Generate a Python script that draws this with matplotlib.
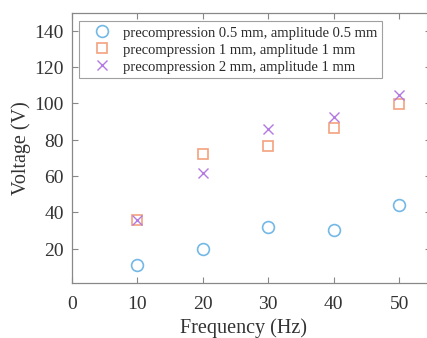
import matplotlib
matplotlib.use('Agg')
import matplotlib.pyplot as plt

plt.rcParams['font.family'] = ['Liberation Serif', 'DejaVu Serif']

freq = [10, 20, 30, 40, 50]
v_pre05_amp05 = [10.8, 20.0, 31.7, 30.3, 44.2]
v_pre1_amp1 = [35.6, 72.2, 76.8, 86.7, 99.7]
v_pre2_amp1 = [35.6, 61.8, 86.1, 92.7, 104.7]

labels = ['precompression 0.5 mm, amplitude 0.5 mm',
          'precompression 1 mm, amplitude 1 mm',
          'precompression 2 mm, amplitude 1 mm']

fig = plt.figure(figsize=(4.275, 3.385), dpi=100, facecolor='white')
ax = fig.add_axes([72 / 427, 55 / 338, 358 / 427, 270 / 338])

ax.plot(freq, v_pre05_amp05, 'o', ms=8.5, mfc='none', mec='#74b8e6', mew=1.2, label=labels[0])
ax.plot(freq, v_pre1_amp1, 's', ms=6.5, mfc='none', mec='#f2a27e', mew=1.2, label=labels[1])
ax.plot(freq, v_pre2_amp1, 'x', ms=6.5, mec='#b579e2', mew=1.0, label=labels[2])

ax.set_xlim(0, 54.8)
ax.set_ylim(1.2, 150)
ax.set_xticks([0, 10, 20, 30, 40, 50])
ax.set_yticks([20, 40, 60, 80, 100, 120, 140])

grey = '#888888'
for s in ax.spines.values():
    s.set_color(grey)
    s.set_linewidth(0.9)
ax.spines['right'].set_visible(False)
ax.tick_params(direction='in', top=True, right=True, length=4, width=0.8,
               color=grey, labelsize=14, labelcolor='#333333')
ax.tick_params(axis='x', pad=9)
ax.tick_params(axis='y', pad=6)

ax.set_xlabel('Frequency (Hz)', fontsize=14.5, color='#333333')
ax.set_ylabel('Voltage (V)', fontsize=14.5, color='#333333')
ax.xaxis.set_label_coords(0.478, -0.13)
ax.yaxis.set_label_coords(-0.115, 0.5)

leg = ax.legend(loc='upper left', bbox_to_anchor=(0.02, 0.968), fontsize=10.5,
                frameon=True, fancybox=False, handlelength=2.45, handletextpad=0.2,
                borderpad=0.32, labelspacing=0.27, borderaxespad=0)
leg.get_frame().set_edgecolor(grey)
leg.get_frame().set_linewidth(0.8)
for t in leg.get_texts():
    t.set_color('#2a2a2a')

fig.savefig('out.png', dpi=100, facecolor='white')
